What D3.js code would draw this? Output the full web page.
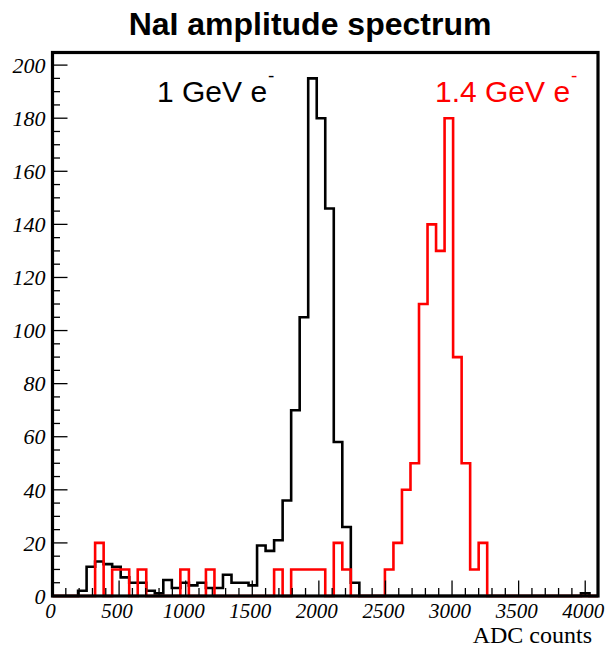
<!DOCTYPE html>
<html>
<head>
<meta charset="utf-8">
<script src="https://cdn.jsdelivr.net/npm/d3@7"></script>
<style>
  body { margin: 0; background: #fff; }
  svg { display: block; }
</style>
</head>
<body>
<div id="chart"></div>
<script>
// histogram data, 64 bins of 64 ADC counts each
var binWidth = 64;
var nBins = 64;

// 1 GeV e- (black)
var counts1GeV = [
  0, 0, 0, 2, 11, 13, 12, 11, 7, 5,
  5, 2, 1, 6, 3, 5, 4, 5, 3, 3,
  8, 5, 5, 4, 19, 17, 21, 36, 70, 105,
  195, 180, 146, 58, 26, 5, 0, 0, 0, 0,
  0, 0, 0, 0, 0, 0, 0, 0, 0, 0,
  0, 0, 0, 0, 0, 0, 0, 0, 0, 0,
  0, 0, 1, 0
];

// 1.4 GeV e- (red)
var counts14GeV = [
  0, 0, 0, 0, 0, 20, 0, 10, 10, 0,
  10, 0, 0, 0, 0, 10, 0, 0, 10, 0,
  0, 0, 0, 0, 0, 0, 10, 0, 10, 10,
  10, 10, 0, 20, 10, 0, 0, 0, 0, 10,
  20, 40, 50, 110, 140, 130, 180, 90, 50, 10,
  20, 0, 0, 0, 0, 0, 0, 0, 0, 0,
  0, 0, 0, 0
];

var xTicks = [0, 500, 1000, 1500, 2000, 2500, 3000, 3500, 4000];
var yTicks = [0, 20, 40, 60, 80, 100, 120, 140, 160, 180, 200];

var svgWidth = 607;
var svgHeight = 648;

// frame of the plot
var margin = { top: 52.5, right: 9, bottom: 52, left: 52.5 };
var chartWidth = svgWidth - margin.left - margin.right;
var chartHeight = svgHeight - margin.top - margin.bottom;

var svg = d3.select("#chart").append("svg")
  .attr("width", svgWidth)
  .attr("height", svgHeight);

var chartGroup = svg.append("g")
  .attr("transform", `translate(${margin.left}, ${margin.top})`);

var x = d3.scaleLinear().domain([0, nBins * binWidth]).range([0, chartWidth]);
var y = d3.scaleLinear().domain([0, 204.75]).range([chartHeight, 0]);

// turn counts into step outline points
function stepPoints(counts) {
  var pts = [[0, 0]];
  counts.forEach(function(c, i) {
    pts.push([i * binWidth, c]);
    pts.push([(i + 1) * binWidth, c]);
  });
  pts.push([nBins * binWidth, 0]);
  return pts;
}

var line = d3.line()
  .x(function(d) { return x(d[0]); })
  .y(function(d) { return y(d[1]); });

chartGroup.append("path")
  .attr("d", line(stepPoints(counts1GeV)))
  .attr("fill", "none")
  .attr("stroke", "#000")
  .attr("stroke-width", 2.6);

chartGroup.append("path")
  .attr("d", line(stepPoints(counts14GeV)))
  .attr("fill", "none")
  .attr("stroke", "#ff0000")
  .attr("stroke-width", 2.6);

// axes: ticks point inside the frame
var yMinor = d3.range(0, 205, 5);
var xMinor = d3.range(0, 4100, 100);

chartGroup.append("g").selectAll("line").data(yMinor).enter().append("line")
  .attr("x1", 0)
  .attr("x2", function(d) { return d % 20 === 0 ? 15 : 7.5; })
  .attr("y1", function(d) { return y(d); })
  .attr("y2", function(d) { return y(d); })
  .attr("stroke", "#000")
  .attr("stroke-width", 1.3);

chartGroup.append("g").selectAll("line").data(xMinor).enter().append("line")
  .attr("x1", function(d) { return x(d); })
  .attr("x2", function(d) { return x(d); })
  .attr("y1", chartHeight)
  .attr("y2", function(d) { return chartHeight - (d % 500 === 0 ? 15.5 : 8); })
  .attr("stroke", "#000")
  .attr("stroke-width", 1.3);

chartGroup.append("g").selectAll("text").data(yTicks).enter().append("text")
  .attr("x", -7)
  .attr("y", function(d) { return y(d); })
  .attr("dy", "0.35em")
  .attr("text-anchor", "end")
  .attr("font-family", "'Liberation Serif', 'DejaVu Serif', serif")
  .attr("font-style", "italic")
  .attr("font-size", 22)
  .text(function(d) { return d; });

chartGroup.append("g").selectAll("text").data(xTicks).enter().append("text")
  .attr("x", function(d) { return x(d) - 2; })
  .attr("y", chartHeight + 22)
  .attr("text-anchor", "middle")
  .attr("font-family", "'Liberation Serif', 'DejaVu Serif', serif")
  .attr("font-style", "italic")
  .attr("font-size", 21)
  .text(function(d) { return d; });

// frame
chartGroup.append("rect")
  .attr("x", 0)
  .attr("y", 0)
  .attr("width", chartWidth)
  .attr("height", chartHeight)
  .attr("fill", "none")
  .attr("stroke", "#000")
  .attr("stroke-width", 3.2);

// axis title
svg.append("text")
  .attr("x", 592)
  .attr("y", 643)
  .attr("text-anchor", "end")
  .attr("font-family", "'Liberation Serif', 'DejaVu Serif', serif")
  .attr("font-size", 24)
  .text("ADC counts");

// title
svg.append("text")
  .attr("x", 310)
  .attr("y", 35)
  .attr("text-anchor", "middle")
  .attr("font-family", "'Liberation Sans', Arial, sans-serif")
  .attr("font-weight", "bold")
  .attr("font-size", 32)
  .text("NaI amplitude spectrum");

// legend labels
function label(xPos, color, txt) {
  var t = svg.append("text")
    .attr("x", xPos)
    .attr("y", 102)
    .attr("font-family", "'Liberation Sans', Arial, sans-serif")
    .attr("font-size", 30)
    .attr("fill", color);
  t.append("tspan").text(txt);
  t.append("tspan")
    .attr("dx", 1)
    .attr("dy", -20)
    .attr("font-size", 19)
    .text("-");
}
label(157, "#000", "1 GeV e");
label(435, "#ff0000", "1.4 GeV e");
</script>
</body>
</html>
